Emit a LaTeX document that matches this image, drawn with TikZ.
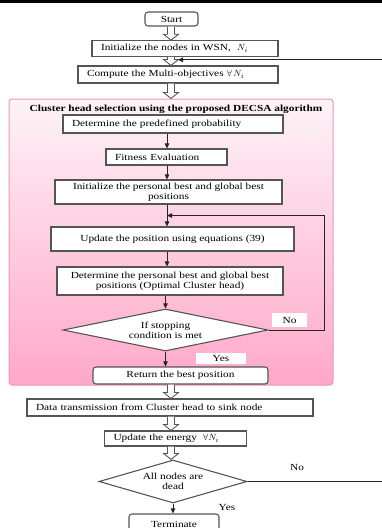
\documentclass[tikz,border=0pt]{standalone}
\usepackage{amsmath}
\usepackage{amssymb}
\usepackage{fontspec}
\setmainfont{Liberation Serif}[FakeStretch=1.22]
\usepackage{tikz}
\usetikzlibrary{positioning,shapes.geometric,arrows.meta,calc}
\definecolor{boxline}{RGB}{85,85,85}
\definecolor{pinkline}{RGB}{236,150,186}
\definecolor{pinktop}{RGB}{253,243,247}
\definecolor{pinkbot}{RGB}{255,168,200}
\newcommand{\hollowarrow}[2]{%
  \draw[hollow] ($(#1.south -| axis)+(-3.5,0)$) -- ($(#2.north -| axis)+(-3.5,-6)$) -- ++(-4,0) -- (#2.north -| axis) -- ++(7.5,-6) -- ++(-4,0) -- ($(#1.south -| axis)+(3.5,0)$);}

\begin{document}
\begin{tikzpicture}[x=1pt,y=-1pt,
    every node/.style={font=\fontsize{9.3}{10}\selectfont},
    box/.style={draw=boxline,line width=1.1pt,fill=white,inner sep=0pt,minimum width=#1},
    boxl/.style={draw=boxline,line width=1.1pt,fill=white,inner xsep=9pt,inner ysep=0pt,text width=#1,align=left},
    term/.style={box=#1,rounded corners=3pt},
    decide/.style={draw=boxline,line width=1.1pt,fill=white,diamond,inner sep=0pt,align=center},
    tag/.style={fill=white,inner sep=0pt},
    hollow/.style={draw=boxline,line width=0.9pt,fill=white},
    flow/.style={draw=black!85,line width=0.8pt,-{Triangle[length=5pt,width=4.5pt]}}]
      \path[use as bounding box,clip] (0,0) rectangle (382,528);
      \fill[black] (0,0) rectangle (382,2.5);
      \coordinate (axis) at (171,0);
      \coordinate (col) at (167,0);
      \node[term=53pt,minimum height=14pt](start) at (171.5,19){Start};
      \node[boxl=168pt,minimum height=15.5pt](init) at (185,48.5){Initialize the nodes in WSN,~ $N_i$};
      \node[boxl=182pt,minimum height=17pt](multi) at (178,74.5){Compute the Multi-objectives $\forall\, N_i$};
      \node[draw=pinkline,line width=1pt,rounded corners=3pt,top color=pinktop,bottom color=pinkbot,minimum width=324pt,minimum height=286pt](chs) at (171,242){};
      \node[font=\fontsize{9.3}{10}\selectfont\bfseries](title) at (176,109.5){Cluster head selection using the proposed DECSA algorithm};
      \node[boxl=202pt,minimum height=18pt](prob) at (173,124){Determine the predefined probability};
      \node[boxl=103pt,minimum height=16pt](fit) at (166.5,157){Fitness Evaluation};
      \node[box=227pt,minimum height=24pt,align=center](pinit) at (168.5,192){Initialize the personal best and global best\\positions};
      \node[box=243pt,minimum height=24pt](upd) at (172.5,239){Update the position using equations (39)};
      \node[box=226pt,minimum height=28pt,align=center](pdet) at (170,281){Determine the personal best and global best\\positions (Optimal Cluster head)};
      \node[decide,aspect=4.9,minimum width=205pt,minimum height=42pt](stop) at (165.5,330){If stopping\\condition is met};
      \node[tag,minimum width=35pt,minimum height=14pt](no1) at (289.5,320){No};
      \node[tag,minimum width=50pt,minimum height=11pt](yes1) at (221,358.5){Yes};
      \node[term=175pt,minimum height=17pt](ret) at (180.5,375.5){Return the best position};
      \node[boxl=268pt,minimum height=17pt](data) at (170,407.5){Data transmission from Cluster head to sink node};
      \node[boxl=124pt,minimum height=15pt](energy) at (175.5,438.5){Update the energy ~$\forall N_i$};
      \node[decide,aspect=3.44,minimum width=148pt,minimum height=43pt](dead) at (173,481.5){All nodes are\\dead};
      \node(no2) at (297,467){No};
      \node(yes2) at (227,507){Yes};
      \node[term=90pt,minimum height=20pt](end) at (174,524){Terminate};
      \coordinate (loop) at ($(pinit.south -| col)!0.5!(upd.north -| col)$);
      \coordinate (back) at ($(init.south -| axis)+(7,3)$);
      \hollowarrow{start}{init}
      \hollowarrow{init}{multi}
      \hollowarrow{multi}{chs}
      \hollowarrow{ret}{data}
      \hollowarrow{data}{energy}
      \hollowarrow{energy}{dead}
      \draw[flow] (prob.south -| col) -- (fit.north -| col);
      \draw[flow] (fit.south -| col) -- (pinit.north -| col);
      \draw[flow] (pinit.south -| col) -- (upd.north -| col);
      \draw[flow] (upd.south -| col) -- (pdet.north -| col);
      \draw[flow] (pdet.south -| stop.north) -- (stop.north);
      \draw[flow] (stop.south) -- (ret.north -| stop.south);
      \draw[flow] (stop.east) -- ++(55.5,0) |- (loop);
      \draw[flow] (dead.south) -- (end.north -| dead.south);
      \draw[flow] (dead.east) -- ++(160,0) |- (back);
    \end{tikzpicture}
\end{document}
